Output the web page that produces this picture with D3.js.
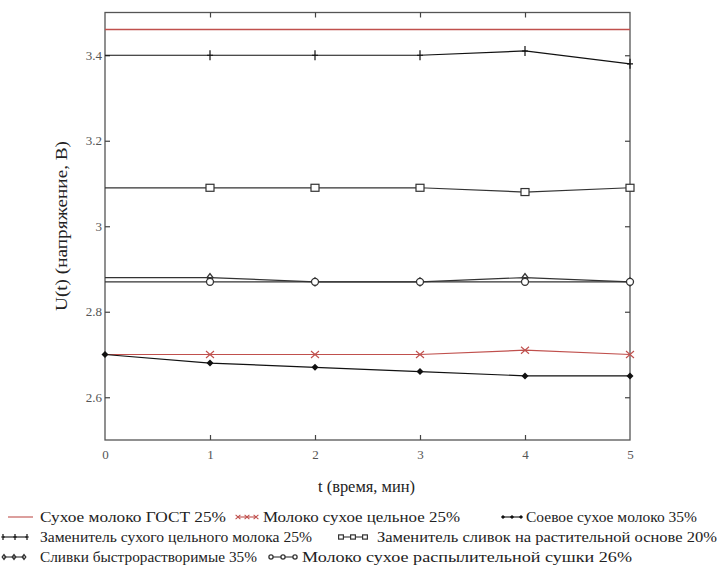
<!DOCTYPE html>
<html><head><meta charset="utf-8">
<script src="https://cdn.jsdelivr.net/npm/d3@7"></script>
<style>body{margin:0;background:#fff}svg{display:block}</style>
</head><body><svg id="c" width="720" height="568"></svg>
<script>
const t = [0,1,2,3,4,5];
const gost = [3.46,3.46,3.46,3.46,3.46,3.46];
const tselnoe = [2.70,2.70,2.70,2.70,2.71,2.70];
const soevoe = [2.70,2.68,2.67,2.66,2.65,2.65];
const zamMoloka = [3.40,3.40,3.40,3.40,3.41,3.38];
const zamSlivok = [3.09,3.09,3.09,3.09,3.08,3.09];
const slivki = [2.88,2.88,2.87,2.87,2.88,2.87];
const raspyl = [2.87,2.87,2.87,2.87,2.87,2.87];
const xTicks = [0,1,2,3,4,5];
const yTicks = [2.6,2.8,3.0,3.2,3.4];
const names = ["Сухое молоко ГОСТ 25%","Молоко сухое цельное 25%","Соевое сухое молоко 35%",
 "Заменитель сухого цельного молока 25%","Заменитель сливок на растительной основе 20%",
 "Сливки быстрорастворимые 35%","Молоко сухое распылительной сушки 26%"];
const xLabel = "t (время, мин)";
const yLabel = "U(t) (напряжение, В)";

const FF = "'Liberation Serif','Times New Roman','DejaVu Serif',serif";
const RED="#c0504d", BLK="#111";
const series = [
 {v:gost,c:RED,m:"none",name:names[0]},
 {v:tselnoe,c:RED,m:"x",name:names[1]},
 {v:soevoe,c:BLK,m:"diamond",name:names[2]},
 {v:zamMoloka,c:BLK,m:"plus",name:names[3]},
 {v:zamSlivok,c:"#333",m:"square",name:names[4]},
 {v:slivki,c:"#333",m:"odiamond",name:names[5]},
 {v:raspyl,c:"#333",m:"circle",name:names[6]}
];
const svg = d3.select("#c");
const L=105,R=630,T=12.5,B=440;
const x = d3.scaleLinear().domain([0,5]).range([L,R]);
const y = d3.scaleLinear().domain([2.5,3.5]).range([B,T]);

svg.append("rect").attr("x",L).attr("y",T).attr("width",R-L).attr("height",B-T)
 .attr("fill","none").attr("stroke","#555").attr("stroke-width",1.3);

const fmt = d => d===3?"3":d3.format(".1f")(d);
const gx = svg.append("g").attr("transform",`translate(0,${B})`)
 .call(d3.axisBottom(x).tickValues(xTicks).tickSize(-5).tickPadding(10).tickFormat(d3.format("d")));
const gy = svg.append("g").attr("transform",`translate(${L},0)`)
 .call(d3.axisLeft(y).tickValues(yTicks).tickSize(-5).tickPadding(3).tickFormat(fmt));
const gt = svg.append("g").attr("transform",`translate(0,${T})`)
 .call(d3.axisTop(x).tickValues(xTicks.slice(1,5)).tickSize(-5).tickFormat(""));
const gr = svg.append("g").attr("transform",`translate(${R},0)`)
 .call(d3.axisRight(y).tickValues(yTicks).tickSize(-5).tickFormat(""));
[gx,gy,gt,gr].forEach(g=>{g.select(".domain").remove();
 g.attr("font-family",FF);
 g.selectAll(".tick line").attr("stroke","#444").attr("stroke-width",1.2);
 g.selectAll("text").attr("fill","#555").attr("font-size",13).style("font-family",FF);});
gx.selectAll(".tick").filter(d=>d===0||d===5).select("line").remove();

svg.append("text").attr("x",318).attr("y",492).attr("font-size",16).attr("fill","#222")
 .attr("textLength",97).attr("lengthAdjust","spacingAndGlyphs").style("font-family",FF).text(xLabel);
svg.append("text").attr("transform",`translate(67,311) rotate(-90)`).attr("font-size",16).attr("fill","#222")
 .attr("textLength",170).attr("lengthAdjust","spacingAndGlyphs").style("font-family",FF).text(yLabel);

function marker(g,type,cx,cy,c,s){
 s=s||1;
 if(type==="x"){g.append("path").attr("d",`M${cx-4*s},${cy-3.5*s}L${cx+4*s},${cy+3.5*s}M${cx-4*s},${cy+3.5*s}L${cx+4*s},${cy-3.5*s}`).attr("stroke",c).attr("stroke-width",1.1);}
 else if(type==="plus"){g.append("path").attr("d",`M${cx},${cy-5*s}V${cy+5*s}M${cx-3*s},${cy}H${cx+3*s}`).attr("stroke",c).attr("stroke-width",1.2);}
 else if(type==="diamond"){g.append("path").attr("d",`M${cx},${cy-3.5*s}L${cx+3.5*s},${cy}L${cx},${cy+3.5*s}L${cx-3.5*s},${cy}Z`).attr("fill",c);}
 else if(type==="odiamond"){g.append("path").attr("d",`M${cx},${cy-4*s}L${cx+3*s},${cy}L${cx},${cy+4*s}L${cx-3*s},${cy}Z`).attr("fill","none").attr("stroke",c).attr("stroke-width",1.3);}
 else if(type==="square"){g.append("rect").attr("x",cx-4*s).attr("y",cy-3.5*s).attr("width",8*s).attr("height",7*s).attr("fill","#fff").attr("stroke",c).attr("stroke-width",1.2);}
 else if(type==="circle"){g.append("circle").attr("cx",cx).attr("cy",cy).attr("r",3.5*s).attr("fill","#fff").attr("stroke",c).attr("stroke-width",1.3);}
}

const line = d3.line().x((d,i)=>x(t[i])).y(d=>y(d));
const plot = svg.append("g");
series.forEach(s=>{
 plot.append("path").attr("d",line(s.v)).attr("fill","none").attr("stroke",s.c).attr("stroke-width",s.m==="none"?1.5:1.2);
});
series.forEach(s=>{
 if(s.m==="none")return;
 s.v.forEach((v,i)=>{ if(i===0) return; marker(plot,s.m,x(t[i]),y(v),s.c);});
});
marker(plot,"diamond",x(0),y(soevoe[0]),BLK);

const leg = [
 {s:0,x:8,w:25,y:522,tx:40,tw:186},{s:1,x:238,w:18,y:522,tx:263,tw:197},{s:2,x:503,w:18,y:522,tx:526,tw:0},
 {s:3,x:3,w:24,y:542,tx:40,tw:272},{s:4,x:341,w:24,y:542,tx:377,tw:340},
 {s:5,x:4,w:20,y:562,tx:40,tw:217},{s:6,x:271,w:24,y:562,tx:302,tw:330}];
leg.forEach(l=>{
 const s=series[l.s];
 const g=svg.append("g");
 g.append("line").attr("x1",l.x).attr("x2",l.x+l.w).attr("y1",l.y-5).attr("y2",l.y-5).attr("stroke",s.c).attr("stroke-width",1.1);
 if(s.m!=="none"){[0,0.5,1].forEach(f=>marker(g,s.m,l.x+l.w*f,l.y-5,s.c,0.6));}
 const tx = g.append("text").attr("x",l.tx).attr("y",l.y).attr("font-size",15.5).attr("fill","#222")
  .style("font-family",FF).text(s.name);
 if(l.tw) tx.attr("textLength",l.tw).attr("lengthAdjust","spacingAndGlyphs");
});
</script></body></html>
